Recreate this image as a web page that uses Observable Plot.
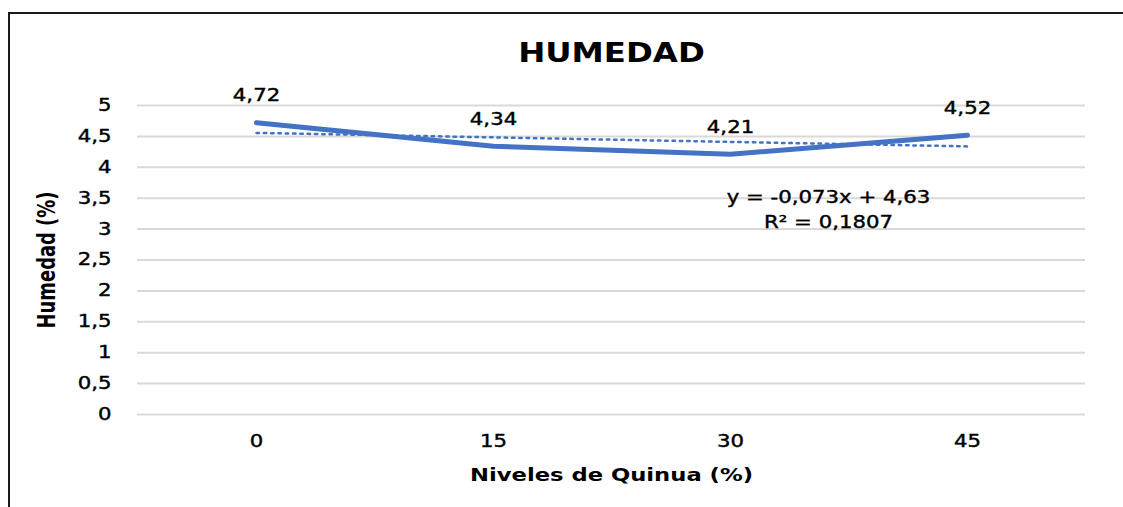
<!DOCTYPE html>
<html><head><meta charset="utf-8">
<script src="https://cdn.jsdelivr.net/npm/d3@7"></script>
<script src="https://cdn.jsdelivr.net/npm/@observablehq/plot@0.6"></script>
<style>
html,body{margin:0;padding:0;background:#fff;}
#wrap{position:relative;width:1123px;height:507px;overflow:hidden;}
#frame{position:absolute;left:8px;top:12px;width:1200px;height:600px;border-top:2px solid #1a1a1a;border-left:2px solid #1a1a1a;}
#chart{position:absolute;left:0;top:0;}
</style></head><body>
<div id="wrap"><div id="frame"></div><div id="chart"></div></div>
<script>
const niveles = ["0", "15", "30", "45"];
const humedad = [4.72, 4.34, 4.21, 4.52];
const yTicks = [0, 0.5, 1, 1.5, 2, 2.5, 3, 3.5, 4, 4.5, 5];
const chartTitle = "HUMEDAD";
const xTitle = "Niveles de Quinua (%)";
const yTitle = "Humedad (%)";
const trendText = "y = -0,073x + 4,63\nR² = 0,1807";

const blue = "#4472C4";
const fmt = d => String(d).replace(".", ",");

const data = niveles.map((n, i) => ({nivel: n, h: humedad[i]}));

// linear trend (Excel style, x = 1..n)
const xs = humedad.map((_, i) => i + 1);
const mx = d3.mean(xs), my = d3.mean(humedad);
const slope = d3.sum(xs, (x, i) => (x - mx) * (humedad[i] - my)) / d3.sum(xs, x => (x - mx) ** 2);
const intercept = my - slope * mx;
const trend = niveles.map((n, i) => ({nivel: n, h: intercept + slope * (i + 1)}));

const svg = Plot.plot({
  width: 1123,
  height: 507,
  marginLeft: 137,
  marginRight: 38,
  marginTop: 105,
  marginBottom: 93,
  style: {fontFamily: "'DejaVu Sans', Verdana, sans-serif", fontSize: "17px", color: "#000", background: "transparent"},
  x: {type: "point", domain: niveles, padding: 0.5},
  y: {domain: [0, 5]},
  marks: [
    Plot.ruleY(yTicks, {stroke: "#d9d9d9", strokeWidth: 2}),
    Plot.axisY({ticks: yTicks, tickFormat: fmt, tickSize: 0, tickPadding: 26, label: null, fontSize: 17}),
    Plot.axisX({tickSize: 0, tickPadding: 20, label: null, fontSize: 17}),
    Plot.line(trend, {x: "nivel", y: "h", stroke: blue, strokeWidth: 2.5, strokeDasharray: "2.5,4.8"}),
    Plot.line(data, {x: "nivel", y: "h", stroke: blue, strokeWidth: 5, strokeLinecap: "round", strokeLinejoin: "round"}),
    Plot.text(data, {x: "nivel", y: "h", text: d => d.h.toFixed(2).replace(".", ","), dy: -27, fontSize: 17, fill: "#000"}),
    Plot.text([trendText], {text: d => d, frameAnchor: "top-right", textAnchor: "middle", lineAnchor: "middle", dx: -257, dy: 102, fontSize: 17, lineHeight: 1.45, fill: "#000"}),
    Plot.text([chartTitle], {text: d => d, frameAnchor: "top", textAnchor: "middle", lineAnchor: "middle", dy: -52, fontSize: 27, fontWeight: "bold", fill: "#000"}),
    Plot.text([xTitle], {text: d => d, frameAnchor: "bottom", textAnchor: "middle", lineAnchor: "middle", dy: 61, fontSize: 18, fontWeight: "bold", fill: "#000"}),
    Plot.text([yTitle], {text: d => d, frameAnchor: "left", textAnchor: "middle", lineAnchor: "middle", rotate: -90, dx: -90, fontSize: 24, fontWeight: "bold", fill: "#000", fontFamily: "'Liberation Sans Narrow', 'DejaVu Sans Condensed', 'Arial Narrow', sans-serif"})
  ]
});

document.getElementById("chart").appendChild(svg);

// horizontal stretch of text, as in the reference rendering
function stretch(el, k) {
  const b = el.getBBox();
  const anchor = getComputedStyle(el).textAnchor || el.getAttribute("text-anchor");
  let cx = b.x + b.width / 2;
  if (anchor === "end") cx = b.x + b.width;
  else if (anchor === "start") cx = b.x;
  const t = el.getAttribute("transform") || "";
  el.setAttribute("transform", `${t} translate(${cx},0) scale(${k},1) translate(${-cx},0)`);
}
d3.select(svg).selectAll("text").each(function() {
  const txt = this.textContent;
  if (txt === yTitle) stretch(this, 0.83);
  else if (txt === chartTitle) stretch(this, 1.2);
  else if (txt === xTitle) stretch(this, 1.26);
  else {
    stretch(this, 1.25);
    this.style.stroke = "#000";
    this.style.strokeWidth = "0.4px";
  }
});
</script>
</body></html>
